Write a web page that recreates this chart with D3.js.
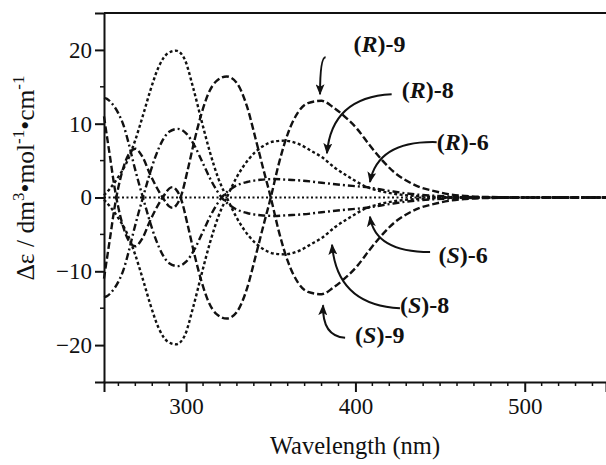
<!DOCTYPE html>
<html>
<head>
<meta charset="utf-8">
<script src="https://cdn.jsdelivr.net/npm/d3@7"></script>
</head>
<body style="margin:0">
<script>
	// wavelength (nm) and delta epsilon
	var wl9 = [251.5, 252, 255, 258, 262, 266, 270, 274, 279, 284, 287, 290, 292, 294, 297, 301, 305, 309, 313, 318, 324, 330, 336, 341, 346, 350, 355, 360, 366, 372, 380, 387, 394, 401, 408, 416, 423, 430, 438, 446, 455, 465, 480, 500, 548];
	var r9 = [11.0, 10.2, 5.6, 1.0, -3.3, -5.8, -6.6, -5.6, -3.0, -0.8, 0.3, 1.2, 1.4, 1.1, -0.2, -3.8, -7.8, -11.3, -14.0, -15.8, -16.4, -15.5, -12.3, -8.0, -3.5, 0, 4.8, 8.6, 11.5, 12.8, 13.1, 12.2, 10.9, 9.3, 7.2, 5.0, 3.4, 2.3, 1.4, 0.9, 0.45, 0.2, 0.06, 0.02, 0];
	var s9 = [-11.0, -10.2, -5.6, -1.0, 3.3, 5.8, 6.6, 5.6, 3.0, 0.8, -0.3, -1.2, -1.4, -1.1, 0.2, 3.8, 7.8, 11.3, 14.0, 15.8, 16.4, 15.5, 12.3, 8.0, 3.5, 0, -4.8, -8.6, -11.5, -12.8, -13.1, -12.2, -10.9, -9.3, -7.2, -5.0, -3.4, -2.3, -1.4, -0.9, -0.45, -0.2, -0.06, -0.02, 0];

	var wl8 = [251.5, 255, 260, 265, 270, 275, 279, 284, 289, 294, 299, 304, 309, 314, 319, 324, 330, 337, 345, 352, 358, 367, 374, 380, 388, 396, 406, 416, 428, 440, 455, 480, 548];
	var r8 = [-0.3, -1.2, -2.8, -4.8, -7.8, -11.5, -14.6, -17.8, -19.5, -19.9, -18.8, -15.0, -10.5, -6.2, -2.6, 0, 2.8, 5.2, 6.9, 7.6, 7.7, 7.2, 6.3, 5.5, 4.0, 2.8, 1.5, 0.8, 0.35, 0.15, 0.05, 0.01, 0];
	var s8 = [0.3, 1.2, 2.8, 4.8, 7.8, 11.5, 14.6, 17.8, 19.5, 19.9, 18.8, 15.0, 10.5, 6.2, 2.6, 0, -2.8, -5.2, -6.9, -7.6, -7.7, -7.2, -6.3, -5.5, -4.0, -2.8, -1.5, -0.8, -0.35, -0.15, -0.05, -0.01, 0];

	var wl6 = [251.5, 253, 256, 260, 263, 266, 269, 272, 274.5, 278, 282, 286, 290, 295, 300, 305, 310, 315, 321, 328, 336, 344, 352, 360, 368, 380, 392, 408, 420, 432, 445, 460, 480, 548];
	var r6 = [13.5, 13.4, 12.8, 11.4, 9.8, 7.4, 4.6, 2.0, 0, -2.8, -5.6, -7.7, -8.9, -9.3, -8.7, -7.0, -4.6, -2.2, 0, 1.4, 2.1, 2.4, 2.5, 2.4, 2.3, 2.0, 1.7, 1.35, 0.9, 0.5, 0.25, 0.1, 0.03, 0];
	var s6 = [-13.5, -13.4, -12.8, -11.4, -9.8, -7.4, -4.6, -2.0, 0, 2.8, 5.6, 7.7, 8.9, 9.3, 8.7, 7.0, 4.6, 2.2, 0, -1.4, -2.1, -2.4, -2.5, -2.4, -2.3, -2.0, -1.7, -1.35, -0.9, -0.5, -0.25, -0.1, -0.03, 0];

	var xTicks = [300, 400, 500];
	var yTicks = [-20, -10, 0, 10, 20];

	// labels: config letter, compound number, text anchor point and arrow (start, bend, tip) in data units
	var labelConf = ["R", "R", "R", "S", "S", "S"];
	var labelNum = ["9", "8", "6", "6", "8", "9"];
	var labelAt = [[398.8, 19.75], [427.3, 13.44], [448.0, 6.44], [449.0, -8.92], [426.3, -15.69], [399.8, -19.76]];
	var arrowFrom = [[382.4, 19.0], [421.4, 14.0], [448.0, 7.5], [444.1, -7.4], [426.3, -15.0], [393.9, -19.0]];
	var arrowBend = [[379.1, 19.0], [386.0, 13.6], [413.3, 7.7], [411.6, -7.4], [389.1, -14.6], [380.3, -18.8]];
	var arrowTip = [[379.1, 14.0], [383.2, 6.0], [408.6, 2.1], [408.6, -2.6], [386.2, -6.4], [380.9, -14.6]];

	var width = 606, height = 465;
	var serifFont = "Liberation Serif";

	var svg = d3.select("body")
		.append("svg")
		.attr("width", width)
		.attr("height", height)
		.attr("font-family", serifFont);

	var x = d3.scaleLinear().domain([251.5, 548]).range([104, 606]);
	var y = d3.scaleLinear().domain([-25, 25]).range([382, 13]);

	svg.append("defs").append("marker")
		.attr("id", "head")
		.attr("markerUnits", "userSpaceOnUse")
		.attr("markerWidth", 11)
		.attr("markerHeight", 9)
		.attr("refX", 10)
		.attr("refY", 4.5)
		.attr("orient", "auto")
		.append("path")
		.attr("d", "M0,0 L11,4.5 L0,9 L2.5,4.5 z")
		.attr("fill", "#111");

	// dotted zero line
	svg.append("line")
		.attr("x1", x(251.5))
		.attr("x2", x(548))
		.attr("y1", y(0))
		.attr("y2", y(0))
		.attr("stroke", "#111")
		.attr("stroke-width", 2.2)
		.attr("stroke-dasharray", "2,2.5");

	var series = [
		{ wl: wl9, v: r9, dash: "7,3" },
		{ wl: wl9, v: s9, dash: "7,3" },
		{ wl: wl8, v: r8, dash: "3,2.5" },
		{ wl: wl8, v: s8, dash: "3,2.5" },
		{ wl: wl6, v: r6, dash: "7,3,2,3" },
		{ wl: wl6, v: s6, dash: "7,3,2,3" }
	];

	var line = d3.line()
		.x(function(d) { return x(d[0]); })
		.y(function(d) { return y(d[1]); })
		.curve(d3.curveMonotoneX);

	svg.selectAll(".cd")
		.data(series)
		.enter().append("path")
		.attr("class", "cd")
		.attr("d", function(s) { return line(d3.zip(s.wl, s.v)); })
		.attr("fill", "none")
		.attr("stroke", "#111")
		.attr("stroke-width", 2.4)
		.attr("stroke-dasharray", function(s) { return s.dash; });

	// axes
	var xAxis = d3.axisBottom(x).tickValues(xTicks).tickSize(10).tickPadding(6).tickFormat(d3.format("d"));
	var gx = svg.append("g").attr("transform", "translate(0," + y(-25) + ")").call(xAxis);

	var yAxis = d3.axisLeft(y).tickValues(yTicks).tickSize(9).tickPadding(3)
		.tickFormat(function(d) { return d < 0 ? "\u2212" + Math.abs(d) : d; });
	var gy = svg.append("g").attr("transform", "translate(" + x(251.5) + ",0)").call(yAxis);

	[gx, gy].forEach(function(g) {
		g.attr("font-family", serifFont).attr("font-size", 23);
		g.select(".domain").attr("stroke", "#111").attr("stroke-width", 2);
		g.selectAll(".tick line").attr("stroke", "#111").attr("stroke-width", 2);
		g.selectAll(".tick text")
			.attr("font-family", serifFont)
			.attr("font-size", 23)
			.attr("fill", "#111");
	});

	// minor ticks
	svg.append("g").selectAll("line")
		.data(d3.range(260, 548, 10).filter(function(d) { return d % 100 !== 0; }))
		.enter().append("line")
		.attr("x1", function(d) { return x(d); })
		.attr("x2", function(d) { return x(d); })
		.attr("y1", y(-25))
		.attr("y2", y(-25) + 4)
		.attr("stroke", "#111")
		.attr("stroke-width", 1.5);

	svg.append("g").selectAll("line")
		.data([-15, -5, 5, 15])
		.enter().append("line")
		.attr("x1", x(251.5) - 4)
		.attr("x2", x(251.5))
		.attr("y1", function(d) { return y(d); })
		.attr("y2", function(d) { return y(d); })
		.attr("stroke", "#111")
		.attr("stroke-width", 1.5);

	// top frame line
	svg.append("line")
		.attr("x1", x(251.5))
		.attr("x2", x(548))
		.attr("y1", y(25))
		.attr("y2", y(25))
		.attr("stroke", "#111")
		.attr("stroke-width", 2);

	// axis titles
	svg.append("text")
		.attr("x", 355)
		.attr("y", 454)
		.attr("text-anchor", "middle")
		.attr("font-family", serifFont)
		.attr("font-size", 24.5)
		.attr("fill", "#111")
		.text("Wavelength (nm)");

	var yt = svg.append("text")
		.attr("transform", "translate(34,178) rotate(-90)")
		.attr("text-anchor", "middle")
		.attr("font-family", serifFont)
		.attr("font-size", 25.5)
		.attr("fill", "#111");
	yt.append("tspan").text("\u0394\u03b5 / dm");
	yt.append("tspan").attr("dy", -10).attr("font-size", 17).text("3");
	yt.append("tspan").attr("dy", 10).text("\u2022mol");
	yt.append("tspan").attr("dy", -10).attr("font-size", 17).text("-1");
	yt.append("tspan").attr("dy", 10).text("\u2022cm");
	yt.append("tspan").attr("dy", -10).attr("font-size", 17).text("-1");

	// labels with curved arrows
	labelConf.forEach(function(c, i) {
		var t = svg.append("text")
			.attr("x", x(labelAt[i][0]))
			.attr("y", y(labelAt[i][1]))
			.attr("font-family", serifFont)
			.attr("font-size", 24)
			.attr("font-weight", "bold")
			.attr("fill", "#111");
		t.append("tspan").text("(");
		t.append("tspan").attr("font-style", "italic").text(c);
		t.append("tspan").text(")-" + labelNum[i]);

		svg.append("path")
			.attr("d", "M" + x(arrowFrom[i][0]) + "," + y(arrowFrom[i][1]) +
				" Q" + x(arrowBend[i][0]) + "," + y(arrowBend[i][1]) +
				" " + x(arrowTip[i][0]) + "," + y(arrowTip[i][1]))
			.attr("fill", "none")
			.attr("stroke", "#111")
			.attr("stroke-width", 2)
			.attr("marker-end", "url(#head)");
	});
</script>
</body>
</html>
